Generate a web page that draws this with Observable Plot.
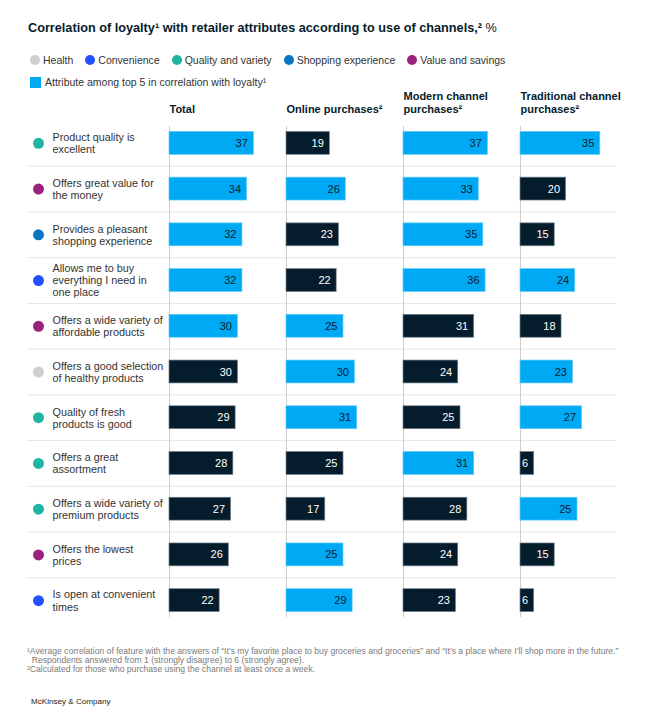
<!DOCTYPE html>
<html><head><meta charset="utf-8">
<script src="https://cdn.jsdelivr.net/npm/d3@7"></script>
<script src="https://cdn.jsdelivr.net/npm/@observablehq/plot@0.6"></script>
<style>
body{margin:0;background:#fff;font-family:"Liberation Sans",Arial,sans-serif;}
#wrap{position:relative;width:669px;height:715px;overflow:hidden;}
.title{position:absolute;left:28px;top:21px;font-size:12.7px;font-weight:bold;color:#051c2c;white-space:nowrap;z-index:2;}
.title .pct{font-weight:normal;}
.legend{position:absolute;left:30px;display:flex;align-items:center;font-size:10.5px;color:#333;white-space:nowrap;z-index:2;}
.legend .item{display:flex;align-items:center;margin-right:12px;}
.legend .dot{width:10px;height:10px;border-radius:50%;margin-right:3px;}
.legend .sq{width:11px;height:11px;margin-right:4px;}
#chart{position:absolute;left:0;top:86px;z-index:1;}
#chart svg{display:block;}
.notes{position:absolute;left:27px;top:647px;font-size:8.6px;line-height:9px;color:#7a7a7a;white-space:nowrap;}
.brand{position:absolute;left:31px;top:697px;font-size:8.1px;color:#222;}
</style></head><body>
<div id="wrap">
  <div class="title">Correlation of loyalty¹ with retailer attributes according to use of channels,² <span class="pct">%</span></div>
  <div class="legend" id="legend1" style="top:54px;"></div>
  <div class="legend" id="legend2" style="top:76px;"></div>
  <div id="chart"></div>
  <div class="notes">¹Average correlation of feature with the answers of “It’s my favorite place to buy groceries and groceries” and “It’s a place where I’ll shop more in the future.”<br>&nbsp;&nbsp;Respondents answered from 1 (strongly disagree) to 6 (strongly agree).<br>²Calculated for those who purchase using the channel at least once a week.</div>
  <div class="brand">McKinsey &amp; Company</div>
</div>
<script>
// ---- data ----
const channels = ["Total", "Online", "Modern", "Traditional"];
const headers = ["Total", "Online purchases²", "Modern channel\npurchases²", "Traditional channel\npurchases²"];
const attributes = [
  "Product quality is\nexcellent",
  "Offers great value for\nthe money",
  "Provides a pleasant\nshopping experience",
  "Allows me to buy\neverything I need in\none place",
  "Offers a wide variety of\naffordable products",
  "Offers a good selection\nof healthy products",
  "Quality of fresh\nproducts is good",
  "Offers a great\nassortment",
  "Offers a wide variety of\npremium products",
  "Offers the lowest\nprices",
  "Is open at convenient\ntimes"
];
const categories = ["Quality and variety", "Value and savings", "Shopping experience", "Convenience", "Value and savings", "Health", "Quality and variety", "Quality and variety", "Quality and variety", "Value and savings", "Convenience"];
const totalValues = [37, 34, 32, 32, 30, 30, 29, 28, 27, 26, 22];
const onlineValues = [19, 26, 23, 22, 25, 30, 31, 25, 17, 25, 29];
const modernValues = [37, 33, 35, 36, 31, 24, 25, 31, 28, 24, 23];
const traditionalValues = [35, 20, 15, 24, 18, 23, 27, 6, 25, 15, 6];
const totalTop5 = [1, 1, 1, 1, 1, 0, 0, 0, 0, 0, 0];
const onlineTop5 = [0, 1, 0, 0, 1, 1, 1, 0, 0, 1, 1];
const modernTop5 = [1, 1, 1, 1, 0, 0, 0, 1, 0, 0, 0];
const traditionalTop5 = [1, 0, 0, 1, 0, 1, 1, 0, 1, 0, 0];
const legendCategories = ["Health", "Convenience", "Quality and variety", "Shopping experience", "Value and savings"];
const topLabel = "Attribute among top 5 in correlation with loyalty¹";

// ---- styles ----
const categoryColors = ["#cfcfcf", "#2251ff", "#1fb5a2", "#0b77c1", "#9b217e"];
const blue = "#00a9f4", navy = "#051c2c";
const colorOf = c => categoryColors[legendCategories.indexOf(c)];

// ---- legend ----
const l1 = document.getElementById("legend1");
legendCategories.forEach((c, i) => {
  const it = document.createElement("div"); it.className = "item";
  it.innerHTML = `<span class="dot" style="background:${categoryColors[i]}"></span><span>${c}</span>`;
  l1.appendChild(it);
});
document.getElementById("legend2").innerHTML = `<div class="item"><span class="sq" style="background:${blue}"></span><span>${topLabel}</span></div>`;

// ---- table ----
const valuesBy = {Total: totalValues, Online: onlineValues, Modern: modernValues, Traditional: traditionalValues};
const topBy = {Total: totalTop5, Online: onlineTop5, Modern: modernTop5, Traditional: traditionalTop5};
const table = channels.flatMap(ch => attributes.map((a, i) => ({channel: ch, attr: a, value: valuesBy[ch][i], top: topBy[ch][i] === 1})));
const seps = attributes.slice(0, -1);
const sepMid = ["Online", "Modern"].flatMap(ch => seps.map(a => ({channel: ch, attr: a})));

// ---- layout ----
const W = 669, H = 542, mT = 34, mB = 5, mL = 169, mR = 53;
const step = (H - mT - mB) / attributes.length;
const facetStep = 117, facetBand = 96, unit = 2.28;

const chart = Plot.plot({
  width: W, height: H,
  marginTop: mT, marginBottom: mB, marginLeft: mL, marginRight: mR,
  style: {fontFamily: "Liberation Sans, Arial, sans-serif", fontSize: "11px", background: "transparent"},
  fx: {domain: channels, paddingInner: (facetStep - facetBand) / facetStep, paddingOuter: 0, round: false, axis: null},
  x: {domain: [0, facetBand / unit], axis: null},
  y: {domain: attributes, paddingInner: 0.5, paddingOuter: 0.25, round: false, axis: null},
  color: {type: "identity"},
  marks: [
    Plot.ruleY(seps, {fx: () => "Total", y: d => d, dy: step / 2, insetLeft: -(mL - 27), insetRight: -(facetStep - facetBand), stroke: "#e6e6e6"}),
    Plot.ruleY(sepMid, {fx: "channel", y: "attr", dy: step / 2, insetRight: -(facetStep - facetBand), stroke: "#e6e6e6"}),
    Plot.ruleY(seps, {fx: () => "Traditional", y: d => d, dy: step / 2, stroke: "#e6e6e6"}),
    Plot.ruleX([0], {insetTop: 6, insetBottom: 6, stroke: "#cccccc"}),
    Plot.barX(table, {fx: "channel", y: "attr", x: "value", fill: d => d.top ? blue : navy, stroke: d => d.top ? "#5fcaf6" : "#6f7f8b", strokeWidth: 0.7}),
    Plot.text(table, {fx: "channel", y: "attr", x: "value", text: d => String(d.value), textAnchor: "end", dx: -6, fontSize: 11, fill: d => d.top ? navy : "white"}),
    Plot.dot(attributes, {fx: () => "Total", y: d => d, frameAnchor: "left", dx: -(mL - 38), r: 5.5, fill: (d, i) => colorOf(categories[i]), stroke: null}),
    Plot.text(attributes, {fx: () => "Total", y: d => d, text: d => d, frameAnchor: "left", textAnchor: "start", dx: -(mL - 52), fontSize: 10.8, lineHeight: 1.12, fill: "#333"}),
    Plot.text(channels, {fx: d => d, text: (d, i) => headers[i], frameAnchor: "top-left", textAnchor: "start", lineAnchor: "bottom", dy: -7.5, fontSize: 11, fontWeight: "bold", lineHeight: 1.18, fill: navy})
  ]
});
document.getElementById("chart").appendChild(chart);
</script>
</body></html>
